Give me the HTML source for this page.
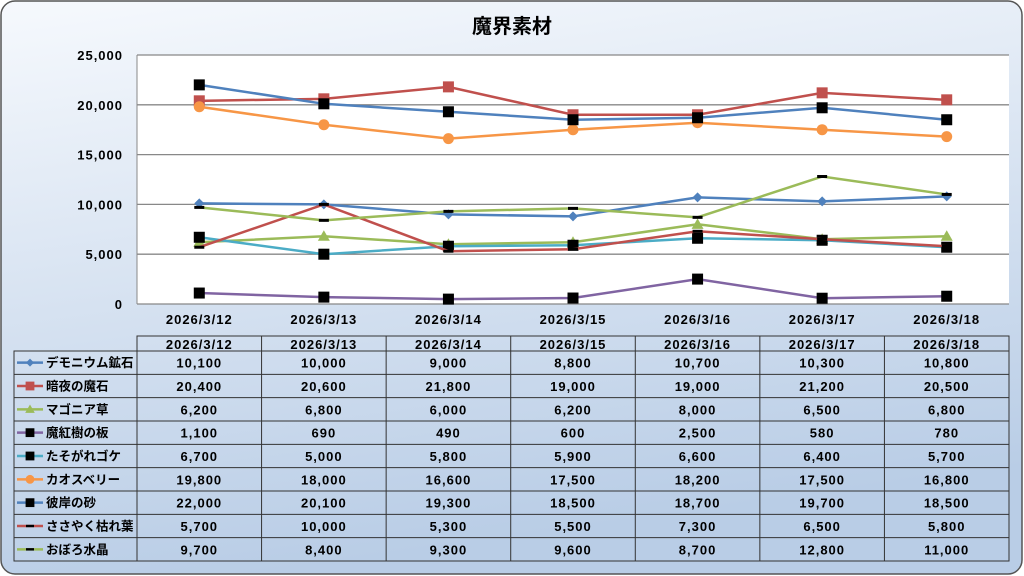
<!DOCTYPE html>
<html><head><meta charset="utf-8">
<style>
html,body{margin:0;padding:0;width:1024px;height:576px;overflow:hidden;background:#fff}
svg{display:block}
text{font-family:"Liberation Sans","Noto Sans CJK JP",sans-serif}
.n{letter-spacing:1px}
</style></head><body>
<svg id="s" width="1024" height="576" xmlns="http://www.w3.org/2000/svg">
<defs>
<linearGradient id="bg" x1="0" y1="0" x2="0.25" y2="1">
<stop offset="0" stop-color="#f6f9fd"/><stop offset="1" stop-color="#b9cde6"/>
</linearGradient>
</defs>
<rect x="1" y="1" width="1021" height="573" rx="14" fill="url(#bg)" stroke="#555" stroke-width="1.5"/>
<text x="512" y="33" text-anchor="middle" font-size="20" font-weight="bold" fill="#000">魔界素材</text>
<rect x="137" y="55" width="872" height="249" fill="#fff"/>
<g id="g"></g>
</svg>
<script>
const g=document.getElementById('g');
let h='';
const X0=137,W=872/7,Y0=304,S=249/25000;
const y=v=>Y0-v*S, x=i=>X0+W*(i+0.5);
for(let k=0;k<=5;k++){const yy=Y0-k*49.8;
h+=`<line x1="${X0}" x2="1009" y1="${yy}" y2="${yy}" stroke="#888" stroke-width="1.3"/>`;
h+=`<text class="n" x="123" y="${yy+5}" text-anchor="end" font-size="13" font-weight="bold">${(k*5000).toLocaleString('en-US')}</text>`;}
h+=`<line x1="${X0}" x2="${X0}" y1="55" y2="304" stroke="#888"/>`;
const dates=[12,13,14,15,16,17,18].map(d=>'2026/3/'+d);
dates.forEach((d,i)=>h+=`<text class="n" x="${x(i)}" y="324" text-anchor="middle" font-size="13" font-weight="bold">${d}</text>`);
const ser=[
["デモニウム鉱石","#4f81bd","diamond",[10100,10000,9000,8800,10700,10300,10800]],
["暗夜の魔石","#c0504d","sqc",[20400,20600,21800,19000,19000,21200,20500]],
["マゴニア草","#9bbb59","tri",[6200,6800,6000,6200,8000,6500,6800]],
["魔紅樹の板","#8064a2","sq",[1100,690,490,600,2500,580,780]],
["たそがれゴケ","#4bacc6","sq",[6700,5000,5800,5900,6600,6400,5700]],
["カオスベリー","#f79646","circ",[19800,18000,16600,17500,18200,17500,16800]],
["彼岸の砂","#4f81bd","sq",[22000,20100,19300,18500,18700,19700,18500]],
["ささやく枯れ葉","#c0504d","dash",[5700,10000,5300,5500,7300,6500,5800]],
["おぼろ水晶","#9bbb59","dash",[9700,8400,9300,9600,8700,12800,11000]]];
function mk(t,c,cx,cy,s){
 if(t=='diamond')return `<path d="M${cx} ${cy-5*s}L${cx+5*s} ${cy}L${cx} ${cy+5*s}L${cx-5*s} ${cy}Z" fill="${c}"/>`;
 if(t=='sqc')return `<rect x="${cx-5.5*s}" y="${cy-5.5*s}" width="${11*s}" height="${11*s}" fill="${c}"/>`;
 if(t=='tri')return `<path d="M${cx} ${cy-6*s}L${cx+6*s} ${cy+4.5*s}L${cx-6*s} ${cy+4.5*s}Z" fill="${c}"/>`;
 if(t=='sq')return `<rect x="${cx-5.5*s}" y="${cy-5.5*s}" width="${11*s}" height="${11*s}" fill="#000"/>`;
 if(t=='circ')return `<circle cx="${cx}" cy="${cy}" r="${5.5*s}" fill="${c}"/>`;
 if(t=='dash')return `<rect x="${cx-5*s}" y="${cy-1.5*s}" width="${10*s}" height="${3*s}" fill="#000"/>`;
}
ser.forEach(s=>{
 h+=`<polyline fill="none" stroke="${s[1]}" stroke-width="2.5" points="${s[3].map((v,i)=>x(i)+','+y(v)).join(' ')}"/>`;
 s[3].forEach((v,i)=>h+=mk(s[2],s[1],x(i),y(v),1));
});
const TL=14,TR=1009,HT=336,RT=351,RH=(561-351)/9;
h+=`<rect x="${X0}" y="${HT}" width="${TR-X0}" height="${RT-HT}" fill="none" stroke="#333"/>`;
h+=`<rect x="${TL}" y="${RT}" width="${TR-TL}" height="${561-RT}" fill="none" stroke="#333"/>`;
for(let i=0;i<=7;i++){const xx=X0+W*i;h+=`<line x1="${xx}" x2="${xx}" y1="${HT}" y2="561" stroke="#333"/>`;}
for(let r=1;r<9;r++){const yy=RT+RH*r;h+=`<line x1="${TL}" x2="${TR}" y1="${yy}" y2="${yy}" stroke="#333"/>`;}
dates.forEach((d,i)=>h+=`<text class="n" x="${x(i)}" y="${HT+13}" text-anchor="middle" font-size="13" font-weight="bold">${d}</text>`);
ser.forEach((s,r)=>{const cy=RT+RH*(r+0.5);
 h+=`<line x1="17" x2="43" y1="${cy}" y2="${cy}" stroke="${s[1]}" stroke-width="2.5"/>`;
 h+=mk(s[2],s[1],30,cy,0.8);
 h+=`<text x="46" y="${cy+4.5}" font-size="12.5" font-weight="bold">${s[0]}</text>`;
 s[3].forEach((v,i)=>h+=`<text class="n" x="${x(i)}" y="${cy+5}" text-anchor="middle" font-size="13" font-weight="bold">${v.toLocaleString('en-US')}</text>`);
});
g.innerHTML=h;
</script>
</body></html>
